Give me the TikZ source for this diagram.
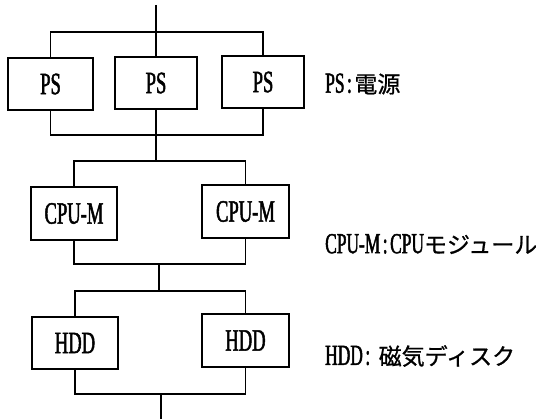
\documentclass[tikz,border=0pt]{standalone}
\usepackage{fontspec}
\setmainfont{Liberation Serif}[FakeStretch=0.6,FakeBold=1.6]
\newfontfamily\cjk{Noto Sans CJK JP}[FakeBold=0.8]
\newcommand{\jp}[1]{{\cjk\fontsize{23}{23}\selectfont #1}}
\newcommand{\cln}{\hspace{2.5pt}:\hspace{2.5pt}}
\begin{document}
\begin{tikzpicture}[x=1pt,y=-1pt,
  unit/.style={draw,line width=1.2pt,inner sep=0pt,font=\fontsize{31}{31}\selectfont},
  wire/.style={line width=1.2pt},
  legend/.style={anchor=west,inner sep=0pt,font=\fontsize{29}{29}\selectfont}]
\useasboundingbox (0,0) rectangle (536,419);
% power supplies
\node[unit,minimum width=85pt,minimum height=52pt] (ps1) at (50.5,84) {PS};
\node[unit,minimum width=82pt,minimum height=52pt] (ps2) at (156,83) {PS};
\node[unit,minimum width=82pt,minimum height=52pt] (ps3) at (263,82) {PS};
% CPU modules
\node[unit,minimum width=86pt,minimum height=53pt] (cpu1) at (74,213.5) {CPU-M};
\node[unit,minimum width=87pt,minimum height=53pt] (cpu2) at (245.5,211.5) {CPU-M};
% disks
\node[unit,minimum width=86pt,minimum height=52pt] (hdd1) at (75,343) {HDD};
\node[unit,minimum width=87pt,minimum height=53pt] (hdd2) at (245.5,340.5) {HDD};
% bus levels
\coordinate (top) at (0,5);
\coordinate (b1) at (0,32);
\coordinate (b2) at (0,135);
\coordinate (b3) at (0,161);
\coordinate (b4) at (0,264);
\coordinate (b5) at (0,291);
\coordinate (b6) at (0,394);
\coordinate (bot) at (0,419);
% PS wiring
\draw[wire] (ps2.north |- top) -- (ps2.north);
\draw[wire] (ps1.north) -- (ps1.north |- b1) -- (ps3.north |- b1) -- (ps3.north);
\draw[wire] (ps1.south) -- (ps1.south |- b2) -- (ps3.south |- b2) -- (ps3.south);
\draw[wire] (ps2.south) -- (ps2.south |- b3);
% CPU wiring
\draw[wire] (cpu1.north) -- (cpu1.north |- b3) -- (cpu2.north |- b3) -- (cpu2.north);
\draw[wire] (cpu1.south) -- (cpu1.south |- b4) -- (cpu2.south |- b4) -- (cpu2.south);
\coordinate (m1) at (159,264);
\draw[wire] (m1) -- (m1 |- b5);
% HDD wiring
\draw[wire] (hdd1.north) -- (hdd1.north |- b5) -- (hdd2.north |- b5) -- (hdd2.north);
\draw[wire] (hdd1.south) -- (hdd1.south |- b6) -- (hdd2.south |- b6) -- (hdd2.south);
\coordinate (m2) at (161,394);
\draw[wire] (m2) -- (m2 |- bot);
% legend
\node[legend] (l1) at (325,84) {PS\cln\jp{電源}};
\node[legend] (l2) at (325,244) {CPU-M\cln CPU\jp{モジュール}};
\node[legend] (l3) at (325,356) {HDD\cln\hspace{6pt}\jp{磁気ディスク}};
\end{tikzpicture}
\end{document}
